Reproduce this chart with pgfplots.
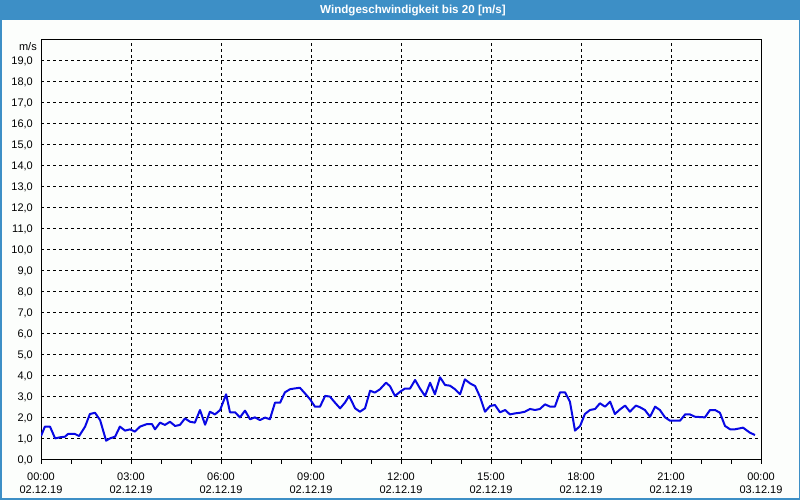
\documentclass[border=0pt]{standalone}
\usepackage{pgfplots}
\pgfplotsset{compat=1.18}
\usepackage{fontspec}
\setmainfont{Liberation Sans}
\definecolor{titleblue}{RGB}{61,143,198}
\definecolor{bgcol}{RGB}{252,254,252}
\definecolor{lineblue}{RGB}{8,8,228}
\begin{document}
\begin{tikzpicture}[x=1bp,y=1bp]
\useasboundingbox (0,0) rectangle (800,500);
\fill[bgcol] (0,0) rectangle (800,500);
\fill[titleblue] (0,480) rectangle (800,500);
\draw[titleblue, line width=3bp] (0,0) rectangle (800,500);
\node[anchor=base west, white, inner sep=0pt, font=\fontsize{11.6bp}{13bp}\selectfont\bfseries] at (320,486) {Windgeschwindigkeit bis 20 [m/s]};
\node[anchor=east, inner sep=0pt, font=\fontsize{11bp}{13bp}\selectfont] at (37,453.5) {m/s};
\begin{axis}[
  at={(41bp,40bp)}, anchor=south west,
  scale only axis, width=720bp, height=420bp,
  xmin=0, xmax=24, ymin=0, ymax=20,
  xtick={0,3,...,24},
  minor xtick={1,2,4,5,7,8,10,11,13,14,16,17,19,20,22,23},
  xticklabels={00:00\\02.12.19,03:00\\02.12.19,06:00\\02.12.19,09:00\\02.12.19,12:00\\02.12.19,15:00\\02.12.19,18:00\\02.12.19,21:00\\02.12.19,00:00\\03.12.19},
  ytick={0,1,...,19},
  /pgf/number format/assume math mode=true,
  /pgf/number format/fixed, /pgf/number format/fixed zerofill,
  /pgf/number format/precision=1, /pgf/number format/use comma,
  xmajorgrids, ymajorgrids,
  major grid style={black, line width=1bp, dash pattern=on 3bp off 3bp},
  axis line style={black, line width=1bp},
  tick align=outside,
  xtick pos=bottom, ytick pos=left,
  ytick style={draw=none},
  xtick style={black, line width=1bp},
  major tick length=4bp, minor tick length=4bp,
  tick label style={font=\fontsize{11bp}{13bp}\selectfont, text=black},
  xticklabel style={align=center, inner sep=0pt, yshift=-9bp},
  yticklabel style={inner sep=0pt, xshift=-4bp},
]
\addplot[lineblue, line width=2bp, line join=round] coordinates {
(0.00,1.14) (0.13,1.59) (0.30,1.59) (0.47,1.03) (0.63,1.08) (0.80,1.11) (0.90,1.24) (1.13,1.24) (1.27,1.14) (1.47,1.59)
(1.63,2.19) (1.80,2.25) (1.97,1.90) (2.17,0.92) (2.30,1.03) (2.47,1.11) (2.63,1.59) (2.80,1.40) (2.97,1.46) (3.13,1.35)
(3.30,1.59) (3.53,1.71) (3.70,1.71) (3.80,1.46) (3.97,1.78) (4.13,1.67) (4.30,1.82) (4.47,1.62) (4.63,1.67) (4.80,1.98)
(4.97,1.82) (5.13,1.78) (5.30,2.38) (5.47,1.68) (5.63,2.30) (5.80,2.17) (5.97,2.38) (6.17,3.13) (6.30,2.27) (6.47,2.27)
(6.63,2.03) (6.80,2.35) (6.97,1.94) (7.13,2.03) (7.30,1.90) (7.47,2.02) (7.63,1.94) (7.80,2.73) (7.97,2.73) (8.13,3.22)
(8.30,3.37) (8.47,3.41) (8.63,3.44) (8.80,3.17) (8.97,2.89) (9.13,2.54) (9.30,2.54) (9.47,3.05) (9.63,3.02) (9.80,2.73)
(9.97,2.46) (10.13,2.73) (10.27,3.05) (10.47,2.46) (10.63,2.30) (10.80,2.46) (10.97,3.30) (11.13,3.21) (11.30,3.37) (11.50,3.68)
(11.63,3.52) (11.80,3.05) (11.97,3.25) (12.13,3.40) (12.30,3.40) (12.47,3.81) (12.63,3.41) (12.80,3.05) (12.97,3.68) (13.13,3.13)
(13.30,3.94) (13.47,3.57) (13.63,3.54) (13.80,3.37) (13.97,3.13) (14.13,3.84) (14.30,3.65) (14.47,3.52) (14.63,3.02) (14.80,2.30)
(14.97,2.57) (15.13,2.62) (15.30,2.27) (15.47,2.38) (15.63,2.17) (15.80,2.22) (15.97,2.25) (16.13,2.30) (16.30,2.43) (16.47,2.38)
(16.63,2.43) (16.80,2.65) (16.97,2.54) (17.13,2.54) (17.30,3.22) (17.47,3.22) (17.63,2.78) (17.80,1.40) (17.97,1.62) (18.13,2.19)
(18.30,2.38) (18.47,2.43) (18.63,2.70) (18.80,2.54) (18.97,2.78) (19.13,2.19) (19.30,2.41) (19.47,2.59) (19.63,2.30) (19.83,2.59)
(19.97,2.51) (20.13,2.38) (20.30,2.06) (20.47,2.54) (20.63,2.38) (20.80,2.03) (20.97,1.87) (21.30,1.87) (21.47,2.17) (21.63,2.17)
(21.80,2.06) (22.13,2.03) (22.30,2.38) (22.47,2.38) (22.63,2.25) (22.80,1.62) (22.97,1.46) (23.13,1.46) (23.40,1.54) (23.63,1.30)
(23.80,1.19)
};
\end{axis}
\end{tikzpicture}
\end{document}
